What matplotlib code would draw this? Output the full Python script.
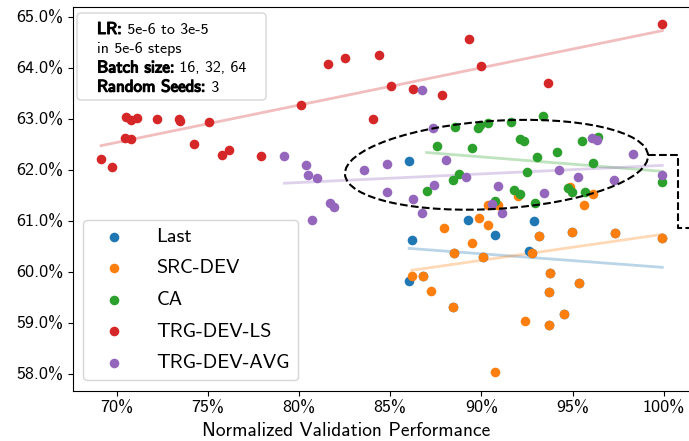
import numpy as np
import matplotlib
matplotlib.use("Agg")
import matplotlib.pyplot as plt
import matplotlib.transforms as mtransforms
from matplotlib import patheffects
from matplotlib.patches import Ellipse, FancyBboxPatch
from matplotlib.ticker import FuncFormatter

#
# Data (normalized validation performance %, test accuracy %)
#
last_x = [86.04, 86.18, 86.05, 89.25, 90.75, 92.91, 92.62, 86.79, 88.47, 88.52, 90.08,
          93.73, 94.53, 93.73, 93.77, 95.37, 92.76, 93.18, 94.99, 97.33, 99.92]
last_y = [62.17, 60.63, 59.82, 61.01, 60.73, 60.99, 60.41, 59.92, 59.31, 60.37, 60.29,
          58.96, 59.18, 59.61, 59.97, 59.79, 60.37, 60.71, 60.79, 60.76, 60.67]

src_x = [86.18, 86.79, 87.23, 88.47, 87.97, 89.47, 89.89, 90.35, 88.52, 90.08, 90.75, 92.40,
         93.73, 94.53, 93.73, 93.77, 95.37, 92.76, 93.18, 94.99, 97.33, 99.92, 95.65, 90.38,
         90.93, 96.14, 92.03, 94.86]
src_y = [59.91, 59.92, 59.63, 59.31, 60.86, 60.57, 61.05, 60.92, 60.37, 60.29, 58.03, 59.03,
         58.96, 59.18, 59.61, 59.97, 59.79, 60.37, 60.71, 60.79, 60.76, 60.67, 61.31, 61.31,
         61.31, 61.52, 61.48, 61.66]

ca_x = [88.56, 89.84, 89.90, 90.38, 91.63, 93.40, 92.12, 92.34, 95.50, 96.41, 87.55, 89.49,
        93.07, 94.13, 96.14, 92.53, 88.78, 88.43, 87.00, 91.79, 92.12, 94.77, 94.96, 95.68,
        99.92, 90.75, 92.94]
ca_y = [62.85, 62.83, 62.88, 62.92, 62.94, 63.05, 62.61, 62.57, 62.57, 62.65, 62.46, 62.42,
        62.26, 62.36, 62.13, 61.95, 61.92, 61.80, 61.59, 61.61, 61.53, 61.64, 61.56, 61.57,
        61.76, 61.39, 61.35]

ls_x = [69.15, 69.74, 70.50, 70.80, 71.14, 70.47, 70.78, 72.20, 73.41, 73.45, 75.09, 74.27,
        75.77, 76.19, 77.90, 80.10, 81.58, 82.53, 84.37, 84.06, 85.07, 86.27, 87.85, 89.34,
        89.97, 93.64, 99.92]
ls_y = [62.21, 62.06, 63.03, 62.98, 63.02, 62.63, 62.60, 63.00, 62.99, 62.95, 62.94, 62.51,
        62.29, 62.39, 62.28, 63.27, 64.07, 64.20, 64.25, 62.99, 63.64, 63.59, 63.46, 64.57,
        64.03, 63.70, 64.86]

avg_x = [79.20, 80.37, 80.50, 81.01, 81.72, 81.92, 80.72, 86.77, 87.37, 83.57, 84.83, 88.05,
         89.18, 87.41, 84.81, 86.24, 86.77, 90.90, 93.44, 90.56, 91.11, 94.27, 95.32, 96.07,
         96.34, 97.26, 98.30, 99.92]
avg_y = [62.28, 62.09, 61.90, 61.85, 61.35, 61.28, 61.01, 63.57, 62.83, 62.00, 62.12, 62.20,
         61.87, 61.71, 61.56, 61.43, 61.16, 61.69, 61.54, 61.33, 61.15, 61.99, 61.87, 62.63,
         62.59, 61.80, 62.31, 61.90]

series = [
    ("Last", last_x, last_y, "#1f77b4"),
    ("SRC-DEV", src_x, src_y, "#ff7f0e"),
    ("CA", ca_x, ca_y, "#2ca02c"),
    ("TRG-DEV-LS", ls_x, ls_y, "#d62728"),
    ("TRG-DEV-AVG", avg_x, avg_y, "#9467bd"),
]

x_ticks = [70, 75, 80, 85, 90, 95, 100]
y_ticks = [58, 59, 60, 61, 62, 63, 64, 65]

# Info box lines: (bold part, normal part)
info_lines = [
    ("LR:", " 5e-6 to 3e-5"),
    ("", "in 5e-6 steps"),
    ("Batch size:", " 16, 32, 64"),
    ("Random Seeds:", " 3"),
]

#
# Style
#
plt.rcParams["font.family"] = ["cmss10", "DejaVu Sans"]
plt.rcParams["axes.unicode_minus"] = False
plt.rcParams["font.size"] = 13

W, H = 689, 441
fig = plt.figure(figsize=(W / 100, H / 100), dpi=100)
ax = fig.add_axes([73 / W, 50.3 / H, 650 / W, 384 / H])

# Scatter + linear fit per series
for name, xs, ys, color in series:
    xs = np.asarray(xs)
    ys = np.asarray(ys)
    ax.scatter(xs, ys, s=48, color=color, linewidths=0, label=name, zorder=3)
    k, b = np.polyfit(xs, ys, 1)
    fit_x = np.array([xs.min(), xs.max()])
    ax.plot(fit_x, k * fit_x + b, color=color, alpha=0.3, linewidth=2, zorder=2)

ax.set_xlim(67.61, 103.25)
ax.set_ylim(57.67, 65.20)
ax.set_xticks(x_ticks)
ax.set_yticks(y_ticks)
ax.xaxis.set_major_formatter(FuncFormatter(lambda v, p: f"{v:.0f}%"))
ax.yaxis.set_major_formatter(FuncFormatter(lambda v, p: f"{v:.1f}%"))
ax.tick_params(labelsize=13)
ax.spines["right"].set_visible(False)

ax.set_xlabel("Normalized Validation Performance", fontsize=14)
ax.xaxis.set_label_coords(273 / 650, -0.082)

# Dashed ellipse around cluster (sized in pixels, centered in data coords)
ell_trans = mtransforms.Affine2D() + mtransforms.ScaledTranslation(90.83, 62.10, ax.transData)
ell = Ellipse((0, 0), width=303.6, height=88, angle=3.6, transform=ell_trans,
              fill=False, edgecolor="black", linestyle="--", linewidth=1.5, zorder=4)
ax.add_patch(ell)

# Connector leaving the ellipse to the right
ax.plot([99.16, 100.78, 100.78, 101.8], [62.29, 62.29, 60.86, 60.86],
        color="black", linestyle="--", linewidth=1.5, clip_on=False, zorder=4)

# Legend
leg = ax.legend(loc="lower left", fontsize=14.5, handlelength=2.28, handletextpad=0.94,
                labelspacing=0.67, scatterpoints=1, borderaxespad=0.52)

# Hyperparameter info box (frame in pixel coordinates, like a legend frame)
frame = FancyBboxPatch((77 + 4, H - 100 + 4), 189 - 8, 87 - 8,
                       boxstyle="round,pad=4,rounding_size=4",
                       transform=None, facecolor="white", edgecolor="0.8",
                       alpha=0.8, linewidth=1, zorder=5, clip_on=False)
ax.add_patch(frame)

# no bold cmss in matplotlib, so fake it with a thin stroke
bold_fx = [patheffects.withStroke(linewidth=0.9, foreground="black")]
text_x = 97 / W
baselines = [33.3, 52.6, 71.8, 91.0]
for (bold, rest), base in zip(info_lines, baselines):
    y = 1 - (base + 3.6) / H
    if bold:
        t = ax.text(text_x, y, bold, fontsize=12.2, va="bottom", ha="left",
                    transform=fig.transFigure, path_effects=bold_fx, zorder=6)
        # normal part right after the bold part
        ax.annotate(rest, xy=(1, 0), xycoords=t, fontsize=11.5, va="bottom", ha="left",
                    zorder=6, annotation_clip=False)
    else:
        ax.text(text_x, y, rest, fontsize=11.5, va="bottom", ha="left",
                transform=fig.transFigure, zorder=6)

fig.savefig("out.png", dpi=100)
